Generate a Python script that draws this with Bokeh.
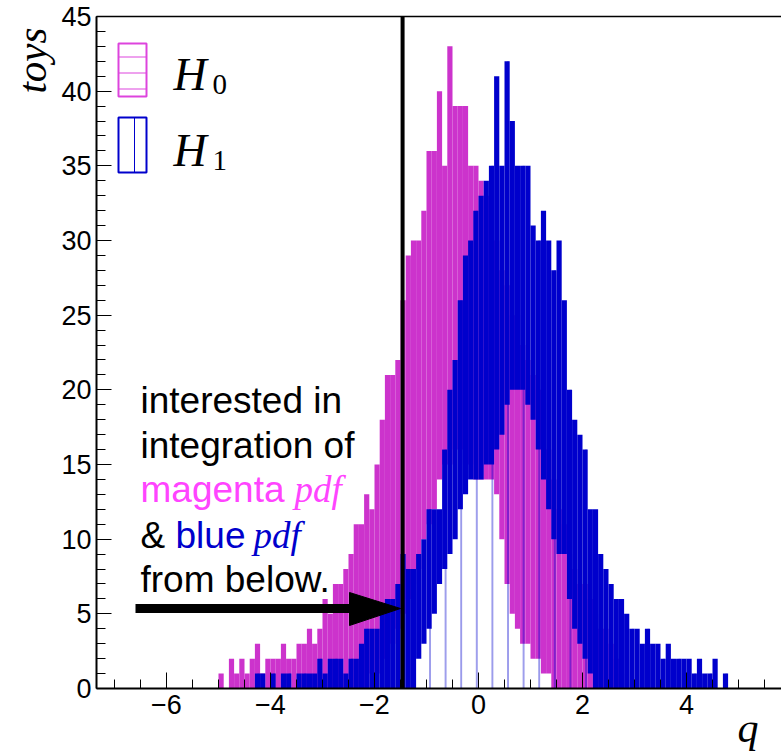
from bokeh.plotting import figure
from bokeh.models import Range1d, LinearAxis, FixedTicker, Label, Span, Title
from bokeh.embed import file_html
from bokeh.resources import INLINE

# ---------------- data ----------------
BIN_WIDTH = 0.1
bin_left = [round(-5.0 + BIN_WIDTH * i, 1) for i in range(100)]

# H0 (magenta): upper and lower edge of the fluctuation band per 0.1 in q
h0_upper = [1, 0, 2, 1, 2, 1, 2, 3, 1, 2,
            2, 2, 3, 2, 2, 3, 3, 4, 3, 4,
            6, 5, 7, 7, 8, 9, 11, 11, 13, 12,
            15, 18, 21, 21, 22, 26, 29, 30, 30, 32,
            36, 36, 40, 35, 43, 39, 39, 39, 35, 35,
            34, 33, 30, 30, 28, 27, 25, 25, 23, 22,
            21, 20, 18, 16, 14, 12, 11, 9, 8, 7,
            7, 6, 5, 4, 4, 3, 2, 1, 0, 0,
            0, 0, 0, 0, 0, 0, 0, 0, 0, 0,
            0, 0, 0, 0, 0, 0, 0, 0, 0, 0]
h0_lower = [0, 0, 0, 0, 0, 0, 0, 0, 0, 0,
            0, 0, 0, 0, 0, 0, 0, 0, 0, 0,
            0, 0, 0, 0, 0, 0, 0, 0, 0, 1,
            1, 2, 2, 3, 4, 5, 6, 7, 8, 10,
            11, 12, 14, 15, 15, 16, 16, 15, 15, 14,
            14, 14, 14, 13, 10, 7, 5, 4, 3, 3,
            2, 2, 1, 1, 0, 0, 0, 0, 0, 0,
            0, 0, 0, 0, 0, 0, 0, 0, 0, 0,
            0, 0, 0, 0, 0, 0, 0, 0, 0, 0,
            0, 0, 0, 0, 0, 0, 0, 0, 0, 0]

# H1 (blue)
h1_upper = [0, 0, 0, 0, 0, 0, 0, 1, 1, 0,
            1, 0, 1, 1, 0, 1, 1, 1, 1, 2,
            1, 2, 2, 2, 1, 2, 2, 3, 4, 4,
            4, 5, 6, 6, 7, 9, 8, 8, 9, 10,
            12, 12, 12, 16, 20, 22, 26, 29, 30, 32,
            33, 34, 35, 41, 35, 42, 38, 35, 35, 35,
            31, 30, 32, 30, 28, 30, 26, 20, 18, 17,
            16, 12, 12, 9, 8, 7, 6, 6, 5, 4,
            4, 3, 4, 3, 3, 2, 3, 2, 2, 2,
            2, 1, 2, 1, 1, 2, 0, 1, 0, 0]
h1_lower = [0, 0, 0, 0, 0, 0, 0, 0, 0, 0,
            0, 0, 0, 0, 0, 0, 0, 0, 0, 0,
            0, 0, 0, 0, 0, 0, 0, 0, 0, 0,
            0, 0, 0, 0, 0, 0, 0, 0, 2, 3,
            4, 5, 7, 8, 9, 10, 12, 13, 14, 14,
            14, 15, 15, 16, 17, 19, 20, 20, 20, 19,
            18, 16, 14, 12, 10, 9, 9, 6, 4, 3,
            2, 1, 0, 0, 0, 0, 0, 0, 0, 0,
            0, 0, 0, 0, 0, 0, 0, 0, 0, 0,
            0, 0, 0, 0, 0, 0, 0, 0, 0, 0]

x_major_ticks = [-6, -4, -2, 0, 2, 4]
x_minor_ticks = [-7.0 + 0.5 * i for i in range(26)]
y_major_ticks = [0, 5, 10, 15, 20, 25, 30, 35, 40, 45]
y_minor_ticks = list(range(0, 46))
cut_value = -1.46

x_title = "q"
y_title = "toys"
note_lines = ["interested in", "integration of"]
legend_names = ["H", "H"]
legend_subs = ["0", "1"]

MAGENTA = "#cc33cc"
BLUE = "#0000cc"

# ---------------- layout helpers (pixel -> data) ----------------
W, H = 781, 754
FRAME_L, FRAME_R, FRAME_T, FRAME_B = 96, 781, 16, 688
Q0_PX, PX_PER_Q = 478.0, 52.0
Y_MAX = 45.0
PX_PER_T = (FRAME_B - FRAME_T) / Y_MAX


def qx(px):
    return (px - Q0_PX) / PX_PER_Q


def ty(py):
    return (FRAME_B - py) / PX_PER_T


p = figure(width=W, height=H, output_backend="svg", toolbar_location=None,
           x_range=Range1d(qx(FRAME_L), qx(FRAME_R)), y_range=Range1d(0, Y_MAX),
           min_border_left=FRAME_L, min_border_right=0, min_border_top=FRAME_T,
           min_border_bottom=H - FRAME_B)
p.grid.visible = False
p.outline_line_color = None
p.background_fill_color = "white"
p.border_fill_color = "white"

bin_right = [round(b + BIN_WIDTH, 2) for b in bin_left]

# magenta band
p.quad(left=bin_left, right=bin_right, bottom=h0_lower, top=h0_upper,
       fill_color=MAGENTA, line_color=None)
# blue hatch under H1
p.quad(left=bin_left, right=bin_right, bottom=[0] * len(bin_left), top=h1_upper,
       fill_alpha=0, line_color=None, hatch_pattern="|", hatch_color=BLUE,
       hatch_alpha=0.75, hatch_scale=15.6, hatch_weight=1)
# blue band
p.quad(left=bin_left, right=bin_right, bottom=h1_lower, top=h1_upper,
       fill_color=BLUE, line_color=None)

# axes
FONT = "Liberation Sans"
SERIF = "Liberation Serif"
xa = p.xaxis[0]
xa.ticker = FixedTicker(ticks=x_major_ticks, minor_ticks=x_minor_ticks)
xa.major_tick_in = 16
xa.major_tick_out = 0
xa.minor_tick_in = 9
xa.minor_tick_out = 0
xa.axis_line_width = 2
xa.major_label_text_font = FONT
xa.major_label_text_font_size = "27px"
xa.major_label_standoff = 6
xa.major_label_text_color = "black"

ya = p.yaxis[0]
ya.ticker = FixedTicker(ticks=y_major_ticks, minor_ticks=y_minor_ticks)
ya.major_tick_in = 15
ya.major_tick_out = 0
ya.minor_tick_in = 9
ya.minor_tick_out = 0
ya.axis_line_width = 2
ya.major_label_text_font = FONT
ya.major_label_text_font_size = "27px"
ya.major_label_standoff = 5
ya.major_label_text_color = "black"

top_axis = LinearAxis(major_tick_in=0, major_tick_out=0, minor_tick_in=0,
                      minor_tick_out=0, major_label_text_font_size="0px",
                      axis_line_width=1.5)
top_axis.ticker = FixedTicker(ticks=[])
p.add_layout(top_axis, "above")

# axis titles as side titles (placed at the ends like ROOT does)
p.add_layout(Title(text=y_title, align="right", vertical_align="top",
                   offset=11, standoff=4, text_font=SERIF,
                   text_font_style="italic", text_font_size="41px",
                   text_color="black"), "left")
p.add_layout(Title(text=x_title, align="right", vertical_align="top",
                   offset=23, standoff=-24, text_font=SERIF,
                   text_font_style="italic", text_font_size="42px",
                   text_color="black"), "below")

# cut line
p.add_layout(Span(location=cut_value, dimension="height", line_color="black",
                  line_width=4))

# arrow
p.segment(x0=[qx(135)], y0=[ty(608)], x1=[qx(355)], y1=[ty(608)],
          line_color="black", line_width=9)
p.patch(x=[qx(349), qx(400), qx(349)], y=[ty(592), ty(608), ty(625)],
        fill_color="black", line_color="black")

# legend boxes
p.quad(left=[qx(118)], right=[qx(146)], bottom=[ty(96)], top=[ty(43)],
       fill_alpha=0, line_color="#dd44dd", line_width=2,
       hatch_pattern="-", hatch_color="#dd44dd", hatch_scale=16, hatch_weight=1)
p.quad(left=[qx(118)], right=[qx(146)], bottom=[ty(172)], top=[ty(117)],
       fill_alpha=0, line_color=BLUE, line_width=2)
p.segment(x0=[qx(134)], y0=[ty(172)], x1=[qx(134)], y1=[ty(117)],
          line_color=BLUE, line_width=1)

for i, (nm, sb) in enumerate(zip(legend_names, legend_subs)):
    base = 74 + 76 * i
    p.add_layout(Label(x=qx(173), y=ty(base), text=nm, text_font=SERIF,
                       text_font_style="italic", text_font_size="46px",
                       text_baseline="alphabetic", text_color="black"))
    p.add_layout(Label(x=qx(212), y=ty(base + 10), text=sb, text_font=SERIF,
                       text_font_size="29px", text_baseline="alphabetic",
                       text_color="black"))

# annotation text
NOTE_SIZE = "37px"
baselines = [400, 445, 489, 535, 579]
for txt, b in zip(note_lines, baselines[:2]):
    p.add_layout(Label(x=qx(140), y=ty(b), text=txt, text_font=FONT,
                       text_font_size=NOTE_SIZE, text_baseline="alphabetic",
                       text_color="black"))
p.add_layout(Label(x=qx(140), y=ty(baselines[2]), text="magenta", text_font=FONT,
                   text_font_size=NOTE_SIZE, text_baseline="alphabetic",
                   text_color="#ff44ff"))
p.add_layout(Label(x=qx(294), y=ty(baselines[2]), text="pdf", text_font=SERIF,
                   text_font_style="italic", text_font_size=NOTE_SIZE,
                   text_baseline="alphabetic", text_color="#ff44ff"))
p.add_layout(Label(x=qx(140), y=ty(baselines[3]), text="&", text_font=FONT,
                   text_font_size=NOTE_SIZE, text_baseline="alphabetic",
                   text_color="black"))
p.add_layout(Label(x=qx(175), y=ty(baselines[3]), text="blue", text_font=FONT,
                   text_font_size=NOTE_SIZE, text_baseline="alphabetic",
                   text_color=BLUE))
p.add_layout(Label(x=qx(253), y=ty(baselines[3]), text="pdf", text_font=SERIF,
                   text_font_style="italic", text_font_size=NOTE_SIZE,
                   text_baseline="alphabetic", text_color=BLUE))
p.add_layout(Label(x=qx(140), y=ty(baselines[4]), text="from below.", text_font=FONT,
                   text_font_size=NOTE_SIZE, text_baseline="alphabetic",
                   text_color="black"))

open("out.html", "w").write(file_html(p, INLINE))
